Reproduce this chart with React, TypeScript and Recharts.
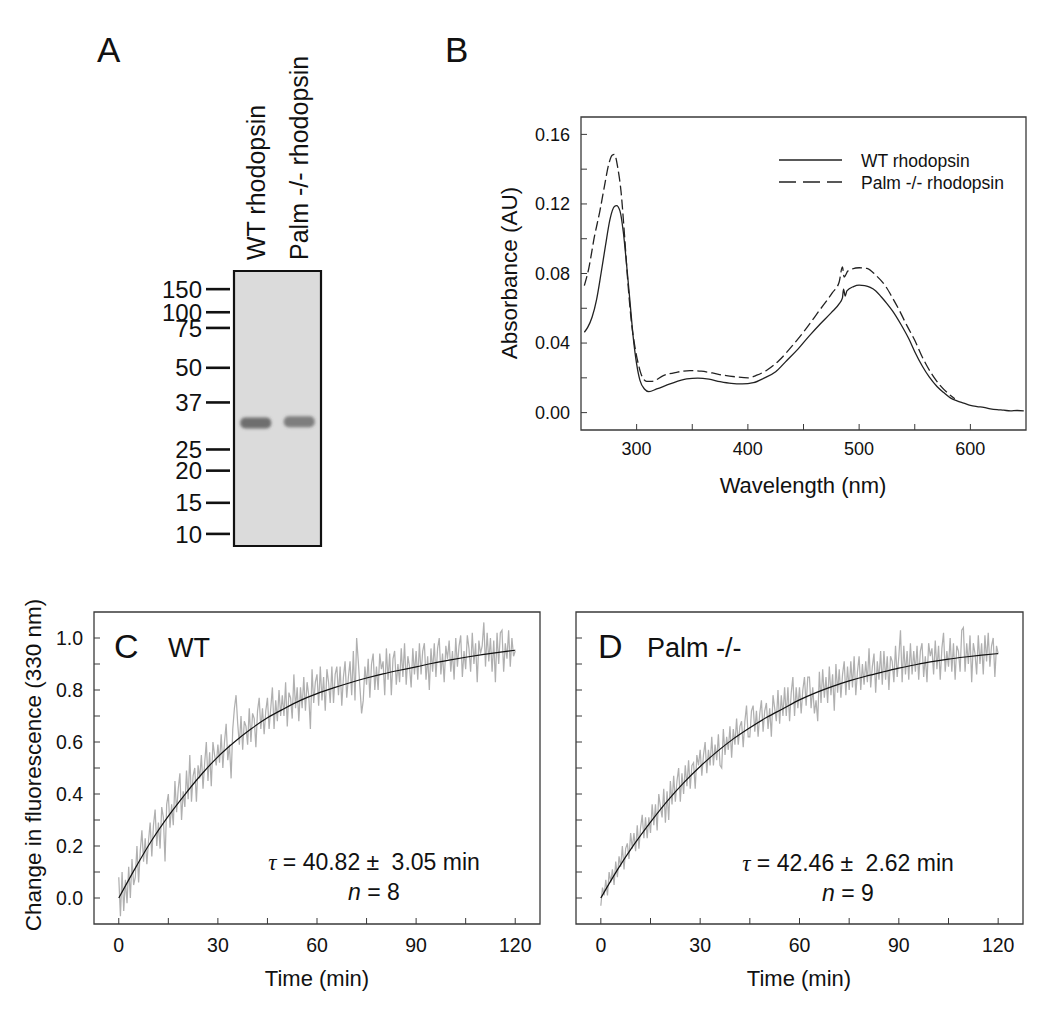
import { Line, LineChart, ReferenceArea, Scatter, ScatterChart, XAxis, YAxis } from "recharts";

const FONT = "Arial, 'Liberation Sans', Helvetica, sans-serif";
const INK = "#111";
const FRAME = "#3a3a3a";

// ---- A: SDS-PAGE gel ----
const laneNames = ["WT rhodopsin", "Palm -/- rhodopsin"];
const bandMigration = [0.553, 0.548]; // fraction of gel length
const bandIntensity = [1, 0.85];
const markerKda = ["150", "100", "75", "50", "37", "25", "20", "15", "10"];
const markerMigration = [0.066, 0.15, 0.207, 0.352, 0.478, 0.649, 0.726, 0.843, 0.956];

// ---- B: absorbance spectra ----
const wtWavelength = [
  253, 256, 260, 264, 268, 272, 276, 280, 282, 285, 288, 291, 294, 297, 300, 303, 307, 311, 318, 330,
  345, 355, 365, 375, 385, 395, 405, 415, 425, 435, 445, 455, 465, 475, 482, 485, 486, 487.5, 489, 495,
  500, 505, 510, 515, 520, 525, 530, 537.5, 545, 550, 557, 563, 570, 576, 582, 588, 594, 600, 606, 612,
  618, 624, 630, 636, 642, 648,
];
const wtAbsorbance = [
  0.0462, 0.049, 0.055, 0.065, 0.08, 0.096, 0.111, 0.1185, 0.119, 0.116, 0.104, 0.085, 0.064, 0.043, 0.028,
  0.0185, 0.0136, 0.0121, 0.0136, 0.0165, 0.0194, 0.0198, 0.0192, 0.0178, 0.0168, 0.0165, 0.0172, 0.02,
  0.0235, 0.03, 0.0365, 0.044, 0.051, 0.0575, 0.0625, 0.066, 0.071, 0.067, 0.07, 0.0725, 0.0733, 0.073,
  0.072, 0.07, 0.0665, 0.0627, 0.0585, 0.0508, 0.042, 0.035, 0.0265, 0.0205, 0.015, 0.0115, 0.0085, 0.0068,
  0.0055, 0.0042, 0.0035, 0.003, 0.0022, 0.0017, 0.0014, 0.001, 0.0012, 0.001,
];
const palmWavelength = [
  253, 257, 262, 267, 271, 275, 278, 280, 283, 286, 289, 292, 295.5, 298.5, 301.5, 304.5, 309, 314, 324,
  336, 348, 358, 368, 378, 390, 400, 408, 417, 428, 440, 452, 464, 476, 482, 485, 486.5, 490, 500, 507,
  515, 524, 530, 536, 543, 550, 556, 561, 567, 573, 580, 586,
];
const palmAbsorbance = [
  0.073, 0.083, 0.101, 0.116, 0.13, 0.143, 0.148, 0.1485, 0.141, 0.127, 0.103, 0.076, 0.051, 0.0376, 0.028,
  0.0213, 0.018, 0.018, 0.0213, 0.0232, 0.0242, 0.0238, 0.0228, 0.0215, 0.0205, 0.02, 0.0215, 0.0244, 0.03,
  0.0385, 0.048, 0.0585, 0.069, 0.075, 0.0838, 0.078, 0.0815, 0.0833, 0.0829, 0.079, 0.0725, 0.066, 0.059,
  0.05, 0.0416, 0.033, 0.0268, 0.0205, 0.0155, 0.011, 0.008,
];

// ---- C / D: fluorescence change, one reading every 0.5 min ----
const SAMPLE_INTERVAL_MIN = 0.5;
const wtTrace = [
  0.08, -0.07, 0.1, -0.05, 0.07, -0.02, 0.12, 0.0, 0.15, 0.05,
  0.08, 0.2, 0.06, 0.18, 0.26, 0.14, 0.23, 0.13, 0.22, 0.29,
  0.16, 0.28, 0.34, 0.2, 0.29, 0.19, 0.35, 0.31, 0.14, 0.36,
  0.4, 0.27, 0.36, 0.28, 0.45, 0.33, 0.42, 0.48, 0.3, 0.41,
  0.35, 0.49, 0.38, 0.55, 0.37, 0.47, 0.5, 0.37, 0.51, 0.46,
  0.55, 0.42, 0.52, 0.6, 0.45, 0.56, 0.43, 0.6, 0.55, 0.51,
  0.59, 0.52, 0.63, 0.5, 0.6, 0.67, 0.53, 0.59, 0.46, 0.65,
  0.73, 0.78, 0.67, 0.59, 0.7, 0.57, 0.68, 0.66, 0.59, 0.73,
  0.6, 0.71, 0.69, 0.58, 0.72, 0.77, 0.65, 0.73, 0.63, 0.72,
  0.77, 0.65, 0.73, 0.81, 0.65, 0.76, 0.68, 0.8, 0.7, 0.78,
  0.7, 0.83, 0.66, 0.79, 0.77, 0.69, 0.86, 0.73, 0.81, 0.68,
  0.81, 0.73, 0.85, 0.72, 0.83, 0.78, 0.65, 0.88, 0.75, 0.83,
  0.86, 0.74, 0.89, 0.76, 0.85, 0.72, 0.88, 0.83, 0.75, 0.89,
  0.75, 0.86, 0.89, 0.78, 0.89, 0.74, 0.85, 0.91, 0.77, 0.85,
  0.91, 0.78, 0.95, 0.76, 1.0, 0.91, 0.81, 0.71, 0.76, 0.89,
  0.82, 0.92, 0.77, 0.9, 0.94, 0.8, 0.89, 0.8, 0.94, 0.88,
  0.91, 0.78, 0.96, 0.84, 0.94, 0.78, 0.92, 0.95, 0.82, 0.9,
  0.83, 0.96, 0.85, 0.98, 0.82, 0.93, 0.89, 0.81, 0.96, 0.86,
  0.95, 0.84, 0.98, 0.86, 0.95, 0.98, 0.84, 0.93, 0.8, 0.96,
  0.87, 0.98, 0.85, 0.96, 1.0, 0.86, 0.94, 0.83, 0.97, 0.92,
  0.99, 0.87, 0.95, 0.84, 1.0, 0.89, 0.97, 1.01, 0.85, 0.95,
  0.88, 1.01, 0.96, 0.87, 1.02, 0.9, 0.98, 0.83, 0.99, 0.94,
  0.97, 1.06, 0.89, 1.02, 0.91, 1.0, 0.87, 0.99, 0.83, 1.02,
  0.9, 1.02, 1.03, 0.87, 0.98, 0.92, 1.03, 0.89, 1.0, 0.93,
  0.95,
];
const palmTrace = [
  -0.03, 0.04, 0.01, 0.07, 0.01, 0.1, 0.06, 0.11, 0.05, 0.14,
  0.08, 0.16, 0.12, 0.2, 0.11, 0.19, 0.21, 0.15, 0.25, 0.19,
  0.25, 0.18, 0.28, 0.19, 0.27, 0.32, 0.23, 0.31, 0.23, 0.31,
  0.25, 0.36, 0.28, 0.36, 0.26, 0.4, 0.35, 0.31, 0.42, 0.29,
  0.41, 0.3, 0.45, 0.36, 0.47, 0.37, 0.45, 0.5, 0.37, 0.48,
  0.4, 0.51, 0.43, 0.53, 0.42, 0.51, 0.52, 0.42, 0.55, 0.51,
  0.57, 0.47, 0.55, 0.6, 0.48, 0.57, 0.51, 0.62, 0.51, 0.59,
  0.53, 0.63, 0.51, 0.5, 0.65, 0.55, 0.62, 0.57, 0.66, 0.54,
  0.65, 0.59, 0.69, 0.59, 0.66, 0.68, 0.58, 0.68, 0.74, 0.62,
  0.62, 0.72, 0.74, 0.64, 0.72, 0.62, 0.71, 0.76, 0.64, 0.72,
  0.75, 0.65, 0.73, 0.62, 0.78, 0.73, 0.68, 0.8, 0.67, 0.78,
  0.7, 0.81, 0.7, 0.81, 0.68, 0.79, 0.85, 0.7, 0.81, 0.73,
  0.81, 0.71, 0.8, 0.85, 0.74, 0.85, 0.85, 0.73, 0.81, 0.71,
  0.76, 0.68, 0.87, 0.75, 0.88, 0.77, 0.85, 0.75, 0.89, 0.78,
  0.86, 0.72, 0.9, 0.79, 0.88, 0.77, 0.86, 0.91, 0.78, 0.89,
  0.8, 0.91, 0.81, 0.93, 0.78, 0.87, 0.93, 0.8, 0.9, 0.82,
  0.91, 0.83, 0.96, 0.81, 0.89, 0.94, 0.79, 0.91, 0.84, 0.95,
  0.82, 0.95, 0.84, 0.93, 0.8, 0.93, 0.91, 0.83, 0.97, 0.85,
  0.93, 1.03, 0.83, 0.97, 0.86, 0.95, 0.84, 0.98, 0.86, 0.95,
  0.87, 0.97, 0.84, 0.95, 0.98, 0.85, 0.93, 0.83, 0.98, 0.93,
  0.96, 0.86, 0.99, 0.88, 0.97, 0.84, 0.96, 1.02, 0.87, 0.95,
  0.89, 1.0, 0.87, 0.98, 0.84, 0.97, 0.95, 0.87, 1.03, 1.04,
  0.87, 0.98, 0.9, 1.01, 0.83, 0.98, 0.94, 0.86, 1.01, 0.9,
  0.98, 0.86, 1.01, 0.91, 1.02, 0.89, 0.97, 1.0, 0.85, 0.97,
  0.94,
];
const fitTime = [0, 5, 10, 15, 20, 25, 30, 35, 40, 45, 50, 55, 60, 65, 70, 75, 80, 85, 90, 95, 100, 105, 110, 115, 120];
const wtFit = [
  0, 0.115, 0.222, 0.315, 0.398, 0.475, 0.543, 0.6, 0.65, 0.693, 0.728, 0.76, 0.786, 0.808, 0.828, 0.846,
  0.862, 0.876, 0.889, 0.903, 0.915, 0.926, 0.936, 0.945, 0.953,
];
const palmFit = [
  0, 0.108, 0.205, 0.292, 0.372, 0.443, 0.506, 0.562, 0.612, 0.655, 0.694, 0.728, 0.762, 0.79, 0.814, 0.835,
  0.853, 0.869, 0.884, 0.897, 0.909, 0.919, 0.927, 0.934, 0.94,
];

const timeTicks = [0, 15, 30, 45, 60, 75, 90, 105, 120];
const fluorTicks = [0, 0.1, 0.2, 0.3, 0.4, 0.5, 0.6, 0.7, 0.8, 0.9, 1.0];
const nmTicks = [300, 350, 400, 450, 500, 550, 600];
const absTicks = [0, 0.02, 0.04, 0.06, 0.08, 0.1, 0.12, 0.14, 0.16];

const toRows = (xs: number[], ys: number[], xk: string, yk: string) =>
  xs.map((x, i) => ({ [xk]: x, [yk]: ys[i] }));

function MarkerTick(props: any) {
  const { x, y, payload } = props;
  const label = markerKda[markerMigration.indexOf(payload.value)];
  return (
    <g>
      <line x1={x - 24} x2={x} y1={y} y2={y} stroke={INK} strokeWidth={2.6} />
      <text x={x - 28} y={y} dy="0.36em" textAnchor="end" fontSize={24} fill={INK}>
        {label}
      </text>
    </g>
  );
}

function LaneTick(props: any) {
  const { x, y, payload } = props;
  const bx = x + 9;
  return (
    <text x={bx} y={y} transform={`rotate(-90 ${bx} ${y})`} textAnchor="start" fontSize={25} fill={INK}>
      {payload.value}
    </text>
  );
}

function BandShape(props: any) {
  const { cx, cy, payload } = props;
  return (
    <g>
      <defs>
        <filter id="bandBlur" x="-30%" y="-80%" width="160%" height="260%">
          <feGaussianBlur stdDeviation="1.8" />
        </filter>
      </defs>
      <rect
        x={cx - 15.5}
        y={cy - 5.5}
        width={31}
        height={11}
        rx={5}
        fill="#4a4a4a"
        fillOpacity={0.75 * payload.intensity}
        filter="url(#bandBlur)"
      />
    </g>
  );
}

function GelPanel() {
  const bands = laneNames.map((lane, i) => ({ lane, migration: bandMigration[i], intensity: bandIntensity[i] }));
  return (
    <div style={{ position: "absolute", left: 0, top: 0 }}>
      <ScatterChart width={340} height={560} margin={{ top: 0, right: 19, bottom: 14, left: 0 }}>
        <XAxis
          type="category"
          dataKey="lane"
          orientation="top"
          allowDuplicatedCategory={false}
          height={271}
          axisLine={false}
          tickLine={false}
          tickSize={0}
          tickMargin={11}
          interval={0}
          tick={(p: any) => <LaneTick {...p} />}
        />
        <YAxis
          type="number"
          dataKey="migration"
          domain={[0, 1]}
          reversed
          allowDataOverflow
          width={234}
          ticks={markerMigration}
          interval={0}
          axisLine={false}
          tickLine={false}
          tickSize={4}
          tickMargin={0}
          tick={(p: any) => <MarkerTick {...p} />}
        />
        <ReferenceArea y1={0} y2={1} fill="#dbdbdb" fillOpacity={1} stroke={INK} strokeWidth={2.2} />
        <Scatter data={bands} shape={(p: any) => <BandShape {...p} />} isAnimationActive={false} />
      </ScatterChart>
    </div>
  );
}

function SpectraPanel() {
  const wtRows = toRows(wtWavelength, wtAbsorbance, "nm", "abs");
  const palmRows = toRows(palmWavelength, palmAbsorbance, "nm", "abs");
  return (
    <div style={{ position: "absolute", left: 420, top: 60 }}>
      <LineChart width={630} height={460} margin={{ top: 57, right: 24, bottom: 50, left: 0 }}>
        <XAxis
          type="number"
          dataKey="nm"
          domain={[250, 650]}
          allowDataOverflow
          ticks={nmTicks}
          interval={0}
          tickFormatter={(v: number) => (v % 100 === 0 ? String(v) : "")}
          height={40}
          axisLine={false}
          tickSize={-6}
          tickMargin={18}
          tickLine={{ stroke: FRAME }}
          tick={{ fontSize: 18, fill: INK }}
        />
        <YAxis
          type="number"
          domain={[-0.01, 0.17]}
          allowDataOverflow
          ticks={absTicks}
          interval={0}
          tickFormatter={(v: number) => (Math.round(v * 100) % 4 === 0 ? v.toFixed(2) : "")}
          width={161}
          axisLine={false}
          tickSize={-6}
          tickMargin={17}
          tickLine={{ stroke: FRAME }}
          tick={{ fontSize: 18, fill: INK }}
        />
        <ReferenceArea x1={250} x2={650} y1={-0.01} y2={0.17} fill="none" stroke={FRAME} strokeWidth={1.3} />
        <Line data={wtRows} dataKey="abs" type="monotone" stroke="#222" strokeWidth={1.3} dot={false} activeDot={false} isAnimationActive={false} />
        <Line data={palmRows} dataKey="abs" type="monotone" stroke="#222" strokeWidth={1.3} strokeDasharray="10 4" dot={false} activeDot={false} isAnimationActive={false} />
      </LineChart>
    </div>
  );
}

function KineticsPanel({ left, width, yAxisWidth, rightMargin, trace, fit, showYLabels }: any) {
  const traceRows = trace.map((v: number, i: number) => ({ t: i * SAMPLE_INTERVAL_MIN, f: v }));
  const fitRows = toRows(fitTime, fit, "t", "f");
  return (
    <div style={{ position: "absolute", left, top: 560 }}>
      <LineChart width={width} height={460} margin={{ top: 52, right: rightMargin, bottom: 36, left: 0 }}>
        <XAxis
          type="number"
          dataKey="t"
          domain={[-7.5, 127.5]}
          allowDataOverflow
          ticks={timeTicks}
          interval={0}
          tickFormatter={(v: number) => (v % 30 === 0 ? String(v) : "")}
          height={60}
          axisLine={false}
          tickSize={-6}
          tickMargin={20}
          tickLine={{ stroke: FRAME }}
          tick={{ fontSize: 19.5, fill: INK }}
        />
        <YAxis
          type="number"
          domain={[-0.1, 1.1]}
          allowDataOverflow
          ticks={fluorTicks}
          interval={0}
          tickFormatter={(v: number) =>
            showYLabels && Math.round(v * 10) % 2 === 0 ? v.toFixed(1) : ""
          }
          width={yAxisWidth}
          axisLine={false}
          tickSize={-6}
          tickMargin={17}
          tickLine={{ stroke: FRAME }}
          tick={{ fontSize: 19.5, fill: INK }}
        />
        <ReferenceArea x1={-7.5} x2={127.5} y1={-0.1} y2={1.1} fill="none" stroke={FRAME} strokeWidth={1.3} />
        <Line data={traceRows} dataKey="f" type="linear" stroke="#b0b0b0" strokeWidth={1.25} dot={false} activeDot={false} isAnimationActive={false} />
        <Line data={fitRows} dataKey="f" type="monotone" stroke="#111" strokeWidth={1.2} dot={false} activeDot={false} isAnimationActive={false} />
      </LineChart>
    </div>
  );
}

function Annotations() {
  const serifItalic = { fontFamily: "'Liberation Serif', 'Times New Roman', serif", fontStyle: "italic" } as const;
  return (
    <svg width={1050} height={1020} style={{ position: "absolute", left: 0, top: 0, pointerEvents: "none" }}>
      <g fill={INK}>
        <text x={97} y={62} fontSize={35}>A</text>
        <text x={445} y={62} fontSize={35}>B</text>
        <text x={114} y={658} fontSize={34}>C</text>
        <text x={168} y={657} fontSize={27}>WT</text>
        <text x={598} y={658} fontSize={34}>D</text>
        <text x={647} y={657} fontSize={27}>Palm -/-</text>

        <text x={374} y={870} fontSize={23} textAnchor="middle">
          <tspan {...serifItalic}>τ</tspan> = 40.82 ± <tspan dx={6}>3.05 min</tspan>
        </text>
        <text x={374} y={900} fontSize={23} textAnchor="middle">
          <tspan fontStyle="italic">n</tspan> = 8
        </text>
        <text x={848} y={871} fontSize={23} textAnchor="middle">
          <tspan {...serifItalic}>τ</tspan> = 42.46 ± <tspan dx={6}>2.62 min</tspan>
        </text>
        <text x={848} y={901} fontSize={23} textAnchor="middle">
          <tspan fontStyle="italic">n</tspan> = 9
        </text>

        <text x={41} y={765} fontSize={22.5} textAnchor="middle" transform="rotate(-90 41 765)">
          Change in fluorescence (330 nm)
        </text>
        <text x={317} y={986} fontSize={22} textAnchor="middle">Time (min)</text>
        <text x={799} y={986} fontSize={22} textAnchor="middle">Time (min)</text>

        <text x={517} y={273} fontSize={22.5} textAnchor="middle" transform="rotate(-90 517 273)">
          Absorbance (AU)
        </text>
        <text x={803} y={493} fontSize={22} textAnchor="middle">Wavelength (nm)</text>

        <line x1={779} x2={842} y1={160} y2={160} stroke="#222" strokeWidth={1.3} />
        <text x={861} y={167} fontSize={17.5}>WT rhodopsin</text>
        <line x1={779} x2={842} y1={182} y2={182} stroke="#222" strokeWidth={1.3} strokeDasharray="17 7" />
        <text x={861} y={189} fontSize={17.5}>Palm -/- rhodopsin</text>
      </g>
    </svg>
  );
}

export default function App() {
  return (
    <div
      style={{
        position: "absolute",
        left: 0,
        top: 0,
        width: 1050,
        height: 1020,
        background: "#fff",
        overflow: "hidden",
        fontFamily: FONT,
      }}
    >
      <GelPanel />
      <SpectraPanel />
      <KineticsPanel left={0} width={560} yAxisWidth={94} rightMargin={20} trace={wtTrace} fit={wtFit} showYLabels />
      <KineticsPanel left={540} width={510} yAxisWidth={36} rightMargin={27} trace={palmTrace} fit={palmFit} showYLabels={false} />
      <Annotations />
    </div>
  );
}
